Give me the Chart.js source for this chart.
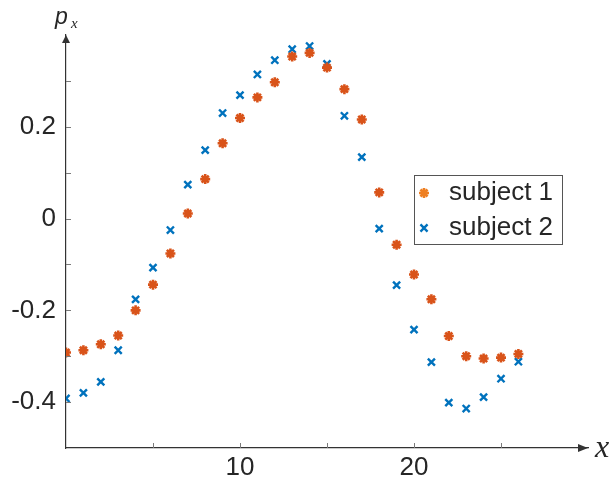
<!DOCTYPE html>
<html>
<head>
<meta charset="utf-8">
<script src="https://cdn.jsdelivr.net/npm/chart.js@4.4.0/dist/chart.umd.min.js"></script>
<style>
  html, body { margin: 0; padding: 0; background: #fff; }
  #wrap { width: 616px; height: 486px; }
</style>
</head>
<body>
<div id="wrap"><canvas id="chart" width="616" height="486"></canvas></div>
<script>
// data
var xValues = [0, 1, 2, 3, 4, 5, 6, 7, 8, 9, 10, 11, 12, 13, 14, 15, 16, 17, 18, 19, 20, 21, 22, 23, 24, 25, 26];
var subject1 = [-0.292, -0.287, -0.274, -0.255, -0.200, -0.144, -0.076, 0.011, 0.086, 0.164, 0.219, 0.264, 0.297,
                0.353, 0.361, 0.329, 0.282, 0.216, 0.057, -0.057, -0.122, -0.176, -0.256, -0.300, -0.305, -0.303, -0.295];
var subject2 = [-0.392, -0.380, -0.356, -0.287, -0.176, -0.107, -0.025, 0.074, 0.149, 0.230, 0.269, 0.314, 0.345,
                0.369, 0.376, 0.337, 0.224, 0.134, -0.022, -0.145, -0.242, -0.313, -0.401, -0.414, -0.389, -0.349, -0.312];
var seriesNames = ['subject 1', 'subject 2'];
var yTickLabels = [-0.4, -0.2, 0, 0.2];
var xTickLabels = [10, 20];

var textColor = '#262626';
var axisColor = '#333333';

function toPoints(ys) {
    return xValues.map(function(x, i) { return { x: x, y: ys[i] }; });
}

function hasLabel(list, v) {
    return list.some(function(l) { return Math.abs(l - v) < 1e-6; });
}

// arrows, inward ticks, axis names and the boxed legend
var axisDecor = {
    id: 'axisDecor',
    afterDraw: function(chart) {
        var ctx = chart.ctx;
        var area = chart.chartArea;
        var xs = chart.scales.x;
        var ys = chart.scales.y;
        ctx.save();

        ctx.strokeStyle = '#7a7a7a';
        ctx.lineWidth = 1;
        ys.ticks.forEach(function(t) {
            if (t.value <= ys.min + 1e-6 || t.value >= ys.max - 1e-6) return;
            var py = Math.round(ys.getPixelForValue(t.value)) + 0.5;
            ctx.beginPath();
            ctx.moveTo(area.left, py);
            ctx.lineTo(area.left + 5, py);
            ctx.stroke();
        });
        xs.ticks.forEach(function(t) {
            if (t.value <= xs.min + 1e-6 || t.value >= xs.max - 1e-6) return;
            var px = Math.round(xs.getPixelForValue(t.value)) + 0.5;
            ctx.beginPath();
            ctx.moveTo(px, area.bottom);
            ctx.lineTo(px, area.bottom - 5);
            ctx.stroke();
        });

        // arrow heads
        ctx.fillStyle = axisColor;
        ctx.beginPath();
        ctx.moveTo(area.left, area.top);
        ctx.lineTo(area.left - 4, area.top + 8);
        ctx.lineTo(area.left + 4, area.top + 8);
        ctx.closePath();
        ctx.fill();
        ctx.beginPath();
        ctx.moveTo(area.right, area.bottom);
        ctx.lineTo(area.right - 10, area.bottom - 4);
        ctx.lineTo(area.right - 10, area.bottom + 4);
        ctx.closePath();
        ctx.fill();

        // axis names
        ctx.fillStyle = textColor;
        ctx.textBaseline = 'alphabetic';
        ctx.textAlign = 'left';
        ctx.font = 'italic 23px "Liberation Sans"';
        ctx.fillText('p', 55, 24);
        ctx.font = 'italic 15px "Liberation Serif"';
        ctx.fillText('x', 71, 28);
        ctx.font = 'italic 32px "Liberation Serif"';
        ctx.fillText('x', 595, 457);

        // legend
        var lx = 414, ly = 175, lw = 148, lh = 69;
        ctx.fillStyle = '#ffffff';
        ctx.fillRect(lx, ly, lw, lh);
        ctx.strokeStyle = '#555555';
        ctx.lineWidth = 1;
        ctx.strokeRect(lx + 0.5, ly + 0.5, lw, lh);
        var legendColors = ['#EE7F22', '#0072BD'];
        chart.data.datasets.forEach(function(ds, i) {
            var rowY = ly + 18 + i * 35;
            ctx.strokeStyle = legendColors[i];
            ctx.fillStyle = legendColors[i];
            ctx.lineWidth = ds.borderWidth;
            Chart.helpers.drawPoint(ctx, { pointStyle: ds.pointStyle, radius: ds.pointRadius, rotation: 0, borderWidth: ds.borderWidth }, lx + 10, rowY);
            ctx.fillStyle = textColor;
            ctx.font = '26px "Liberation Sans"';
            ctx.textBaseline = 'middle';
            ctx.fillText(ds.label, lx + 35, rowY);
        });
        ctx.restore();
    }
};

var chart = new Chart(document.getElementById('chart'), {
    type: 'scatter',
    data: {
        datasets: [{
            label: seriesNames[0],
            data: toPoints(subject1),
            pointStyle: 'star',
            pointRadius: 5,
            borderWidth: 2.6,
            borderColor: '#D95319',
            backgroundColor: '#D95319'
        }, {
            label: seriesNames[1],
            data: toPoints(subject2),
            pointStyle: 'crossRot',
            pointRadius: 5,
            borderWidth: 2.4,
            borderColor: '#0072BD',
            backgroundColor: '#0072BD'
        }]
    },
    options: {
        responsive: false,
        animation: false,
        events: [],
        layout: { padding: { top: 35, right: 28, left: 0, bottom: 0 } },
        plugins: {
            legend: { display: false },
            tooltip: { enabled: false }
        },
        scales: {
            x: {
                type: 'linear',
                min: 0,
                max: 30,
                afterFit: function(scale) { scale.height = 38; },
                border: { display: true, color: axisColor, width: 1.2 },
                grid: { display: false, drawTicks: false },
                ticks: {
                    stepSize: 5,
                    padding: 4,
                    maxRotation: 0,
                    autoSkip: false,
                    color: textColor,
                    font: { family: '"Liberation Sans"', size: 26 },
                    callback: function(v) { return hasLabel(xTickLabels, v) ? String(v) : ''; }
                }
            },
            y: {
                type: 'linear',
                min: -0.5,
                max: 0.4,
                afterFit: function(scale) { scale.width = 66; },
                border: { display: true, color: axisColor, width: 1.2 },
                grid: { display: false, drawTicks: false },
                ticks: {
                    stepSize: 0.1,
                    padding: 10,
                    autoSkip: false,
                    color: textColor,
                    font: { family: '"Liberation Sans"', size: 26 },
                    callback: function(v) {
                        if (!hasLabel(yTickLabels, v)) return '';
                        return Math.abs(v) < 1e-9 ? '0' : String(Math.round(v * 10) / 10);
                    }
                }
            }
        }
    },
    plugins: [axisDecor]
});
</script>
</body>
</html>
